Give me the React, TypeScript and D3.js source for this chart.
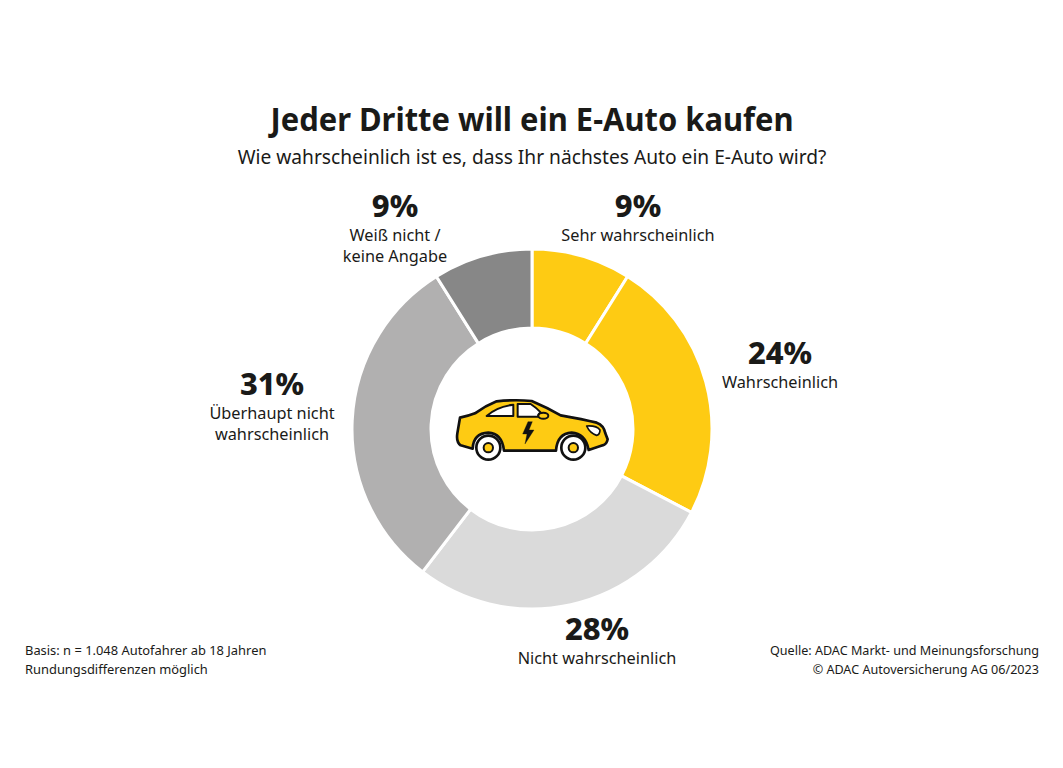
import * as d3 from "d3"

const categories = [
  "Sehr wahrscheinlich",
  "Wahrscheinlich",
  "Nicht wahrscheinlich",
  "Überhaupt nicht wahrscheinlich",
  "Weiß nicht / keine Angabe"
]
const values = [9, 24, 28, 31, 9]
const colors = ["#fecb13", "#fecb13", "#dadada", "#b1b0b0", "#878787"]

// label text per slice, split in lines
const labelLines = [
  ["Sehr wahrscheinlich"],
  ["Wahrscheinlich"],
  ["Nicht wahrscheinlich"],
  ["Überhaupt nicht", "wahrscheinlich"],
  ["Weiß nicht /", "keine Angabe"]
]
const labelPos = [
  [638, 217],
  [780, 364],
  [597, 640],
  [272, 395],
  [395, 217]
]

const title = "Jeder Dritte will ein E-Auto kaufen"
const subtitle = "Wie wahrscheinlich ist es, dass Ihr nächstes Auto ein E-Auto wird?"
const notesLeft = ["Basis: n = 1.048 Autofahrer ab 18 Jahren", "Rundungsdifferenzen möglich"]
const notesRight = ["Quelle: ADAC Markt- und Meinungsforschung", "© ADAC Autoversicherung AG 06/2023"]

const width = 1063
const height = 768
const cx = 532
const cy = 429
const outerR = 180
const innerR = 101
const ink = "#1a1a18"
const font = "'Noto Sans', sans-serif"

const CarIcon = () => (
  <g transform="translate(440,380) scale(0.3333)" stroke="#111" strokeWidth={8} strokeLinejoin="round">
    <path
      d="M60 113 Q85 108 105 100 Q135 78 170 64 Q225 58 275 63 Q320 82 362 106 Q430 118 470 128 Q492 136 496 160 L503 178 Q500 194 488 196 L446 210 Q436 160 395 158 Q352 160 348 212 L192 212 Q186 160 145 158 Q100 160 98 206 L62 196 Q48 186 52 160 Z"
      fill="#fecb13"
    />
    <path d="M140 108 Q170 80 220 74 L220 108 Z" fill="#fff" strokeWidth={6} />
    <path d="M233 72 L272 72 Q290 84 302 97 Q292 104 296 110 L233 110 Z" fill="#fff" strokeWidth={6} />
    <ellipse cx={310} cy={107} rx={15} ry={9} fill="#fecb13" strokeWidth={6} />
    <path d="M440 138 Q470 136 480 150 Q480 164 470 166 Q450 160 440 138 Z" fill="#fff" strokeWidth={5} />
    <path d="M264 125 L248 162 L261 162 L255 192 L282 150 L267 150 L277 125 Z" fill="#111" strokeWidth={1} />
    {[145, 400].map(x => (
      <g key={x}>
        <circle cx={x} cy={203} r={36} fill="#fff" />
        <circle cx={x} cy={203} r={14} fill="#fecb13" strokeWidth={6} />
      </g>
    ))}
  </g>
)

export default function App() {
  const pie = d3.pie<number>().sort(null)
  const arc = d3.arc<d3.PieArcDatum<number>>().innerRadius(innerR).outerRadius(outerR)
  const arcs = pie(values)

  return (
    <svg
      width={width}
      height={height}
      viewBox={`0 0 ${width} ${height}`}
      style={{ position: "absolute", left: 0, top: 0, background: "#fff" }}
      fontFamily={font}
      fill={ink}
    >
      <text
        x={532}
        y={131}
        textAnchor="middle"
        fontSize={32}
        fontWeight={700}
        textLength={523}
        lengthAdjust="spacingAndGlyphs"
      >
        {title}
      </text>
      <text x={532} y={164} textAnchor="middle" fontSize={19.2}>
        {subtitle}
      </text>

      <g transform={`translate(${cx},${cy})`}>
        {arcs.map((d, i) => (
          <path key={categories[i]} d={arc(d) ?? ""} fill={colors[i]} stroke="#fff" strokeWidth={3} />
        ))}
      </g>
      <CarIcon />

      {labelPos.map(([x, y], i) => (
        <g key={categories[i]} textAnchor="middle">
          <text transform={`translate(${x},${y}) scale(1.03,1)`} fontSize={30} fontWeight={800}>
            {values[i]}%
          </text>
          {labelLines[i].map((line, j) => (
            <text key={line} x={x} y={y + 24 + j * 21} fontSize={16.3}>
              {line}
            </text>
          ))}
        </g>
      ))}

      {notesLeft.map((t, i) => (
        <text key={t} x={25} y={655 + i * 19} fontSize={12.9}>
          {t}
        </text>
      ))}
      {notesRight.map((t, i) => (
        <text key={t} x={1039} y={655 + i * 19} fontSize={12.6} textAnchor="end">
          {t}
        </text>
      ))}
    </svg>
  )
}
